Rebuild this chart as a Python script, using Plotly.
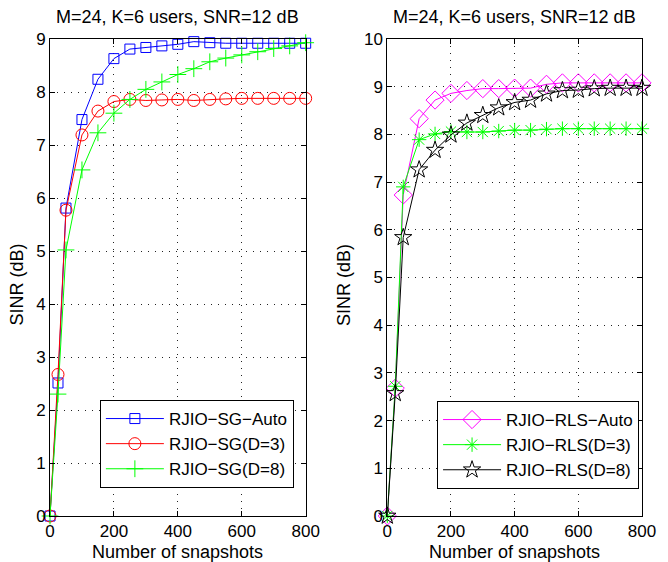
import plotly.graph_objects as go

snapshots = [0, 25, 50, 100, 150, 200, 250, 300, 350, 400, 450, 500, 550, 600, 650, 700, 750, 800]

sg_auto = [0, 2.51, 5.81, 7.48, 8.24, 8.63, 8.81, 8.84, 8.87, 8.90, 8.95, 8.93, 8.92, 8.92, 8.92, 8.92, 8.92, 8.92]
sg_d3 = [0, 2.67, 5.77, 7.19, 7.64, 7.82, 7.86, 7.84, 7.85, 7.86, 7.84, 7.86, 7.87, 7.88, 7.88, 7.88, 7.88, 7.88]
sg_d8 = [0, 2.30, 5.02, 6.53, 7.23, 7.60, 7.86, 8.05, 8.19, 8.33, 8.44, 8.57, 8.64, 8.70, 8.76, 8.82, 8.87, 8.93]

rls_auto = [0, 2.68, 6.73, 8.33, 8.72, 8.86, 8.92, 8.96, 8.96, 8.97, 8.97, 9.05, 9.08, 9.08, 9.08, 9.08, 9.08, 9.08]
rls_d3 = [0, 2.72, 6.90, 7.89, 8.01, 8.06, 8.05, 8.05, 8.07, 8.09, 8.09, 8.11, 8.12, 8.12, 8.12, 8.12, 8.12, 8.12]
rls_d8 = [0, 2.57, 5.84, 7.26, 7.67, 7.99, 8.24, 8.40, 8.56, 8.67, 8.72, 8.85, 8.92, 8.93, 8.96, 8.97, 8.97, 8.97]

title_text = "M=24, K=6 users, SNR=12 dB"
xlabel = "Number of snapshots"
ylabel = "SINR (dB)"
FONT = "Liberation Sans, Arial, Helvetica, sans-serif"

W, H = 668, 562
AX_L, AX_R, AX_T, AX_B = 50, 652, 39, 516
pw = AX_R - AX_L
ph = AX_B - AX_T

def fx(p):
    return (p - AX_L) / pw

def fy(p):
    return (AX_B - p) / ph

fig = go.Figure()

def add(y, name, color, symbol, size, xa, ya, legend):
    fig.add_trace(go.Scatter(
        x=snapshots, y=y, name=name, mode="lines+markers",
        line=dict(color=color, width=1),
        marker=dict(symbol=symbol, size=size, color=color,
                    line=dict(color=color, width=1)),
        xaxis=xa, yaxis=ya, legend=legend, cliponaxis=False))

add(sg_auto, "RJIO\u2212SG\u2212Auto", "#0000ff", "square-open", 10, "x", "y", "legend")
add(sg_d3, "RJIO\u2212SG(D=3)", "#ff0000", "circle-open", 12, "x", "y", "legend")
add(sg_d8, "RJIO\u2212SG(D=8)", "#00ff00", "cross-thin-open", 12, "x", "y", "legend")
add(rls_auto, "RJIO\u2212RLS\u2212Auto", "#ff00ff", "diamond-open", 14, "x2", "y2", "legend2")
add(rls_d3, "RJIO\u2212RLS(D=3)", "#00ff00", "asterisk-open", 12, "x2", "y2", "legend2")
add(rls_d8, "RJIO\u2212RLS(D=8)", "#000000", "star-open", 13, "x2", "y2", "legend2")

axis_common = dict(showline=True, linecolor="black", linewidth=1, mirror="ticks",
                   ticks="inside", ticklen=5, tickcolor="black",
                   showgrid=True, gridcolor="#222222", gridwidth=1, griddash="1px,6px",
                   zeroline=False, tickfont=dict(family=FONT, size=17, color="black"))

leg_common = dict(xanchor="right", yanchor="top", bordercolor="black", borderwidth=1,
                  bgcolor="white", itemwidth=58, tracegroupgap=0,
                  font=dict(family=FONT, size=17, color="black"))

fig.update_layout(
    width=W, height=H, margin=dict(l=AX_L, r=W - AX_R, t=AX_T, b=H - AX_B),
    paper_bgcolor="white", plot_bgcolor="white",
    font=dict(family=FONT, color="black"),
    xaxis=dict(domain=[0, fx(310)], range=[0, 800], dtick=200, anchor="y", **axis_common),
    yaxis=dict(domain=[0, 1], range=[0, 9], dtick=1, anchor="x", **axis_common),
    xaxis2=dict(domain=[fx(393), 1], range=[0, 800], dtick=200, anchor="y2", **axis_common),
    yaxis2=dict(domain=[0, 1], range=[0, 10], dtick=1, anchor="x2", **axis_common),
    legend=dict(x=fx(298), y=fy(400), **leg_common),
    legend2=dict(x=fx(649), y=fy(401), **leg_common),
    showlegend=True,
)

ann = []
for cx in (180, 522):
    ann.append(dict(text=title_text, x=fx(cx), y=fy(17), xref="paper", yref="paper",
                    showarrow=False, xanchor="center", yanchor="middle",
                    font=dict(family=FONT, size=18, color="black")))
    ann.append(dict(text=xlabel, x=fx(cx), y=fy(552), xref="paper", yref="paper",
                    showarrow=False, xanchor="center", yanchor="middle",
                    font=dict(family=FONT, size=18, color="black")))
for cx in (16, 349):
    ann.append(dict(text=ylabel, x=fx(cx), y=fy(285), xref="paper", yref="paper",
                    showarrow=False, xanchor="center", yanchor="middle", textangle=-90,
                    font=dict(family=FONT, size=18, color="black")))
fig.update_layout(annotations=ann)

fig.write_html("out.html", config={"displayModeBar": False},
               post_script="document.body.style.margin='0';")
